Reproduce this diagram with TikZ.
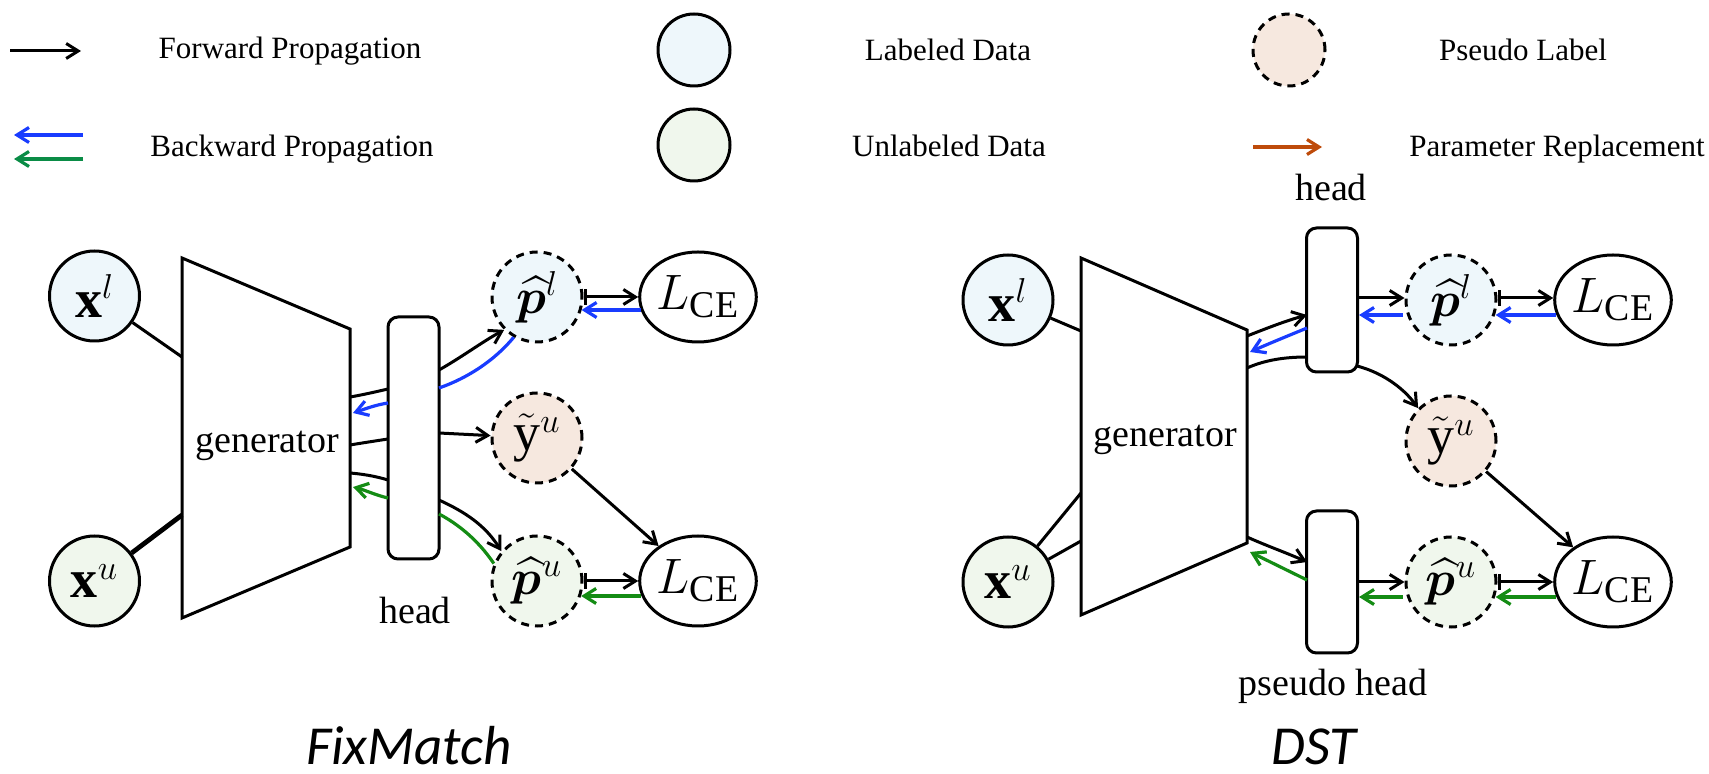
\documentclass[tikz,border=0pt]{standalone}
\usepackage{fontspec}
\setmainfont{Liberation Serif}
\newfontfamily\titlefont{Carlito}
\usepackage{amsmath}
\usepackage{bm}
\usetikzlibrary{arrows.meta,shapes.geometric,calc}
\definecolor{labfill}{RGB}{238,247,251}
\definecolor{unlabfill}{RGB}{240,247,237}
\definecolor{pseudofill}{RGB}{246,232,223}
\definecolor{bblue}{RGB}{25,60,255}
\definecolor{bgreen}{RGB}{20,140,20}
\definecolor{lgreen}{RGB}{10,140,70}
\definecolor{porange}{RGB}{190,75,10}
\tikzset{
  mathfont/.style={font=\fontsize{27}{31}\selectfont},
  datanode/.style={circle, draw, line width=1.5pt, minimum size=45pt, inner sep=0pt, mathfont},
  labnode/.style={datanode, fill=labfill},
  unlabnode/.style={datanode, fill=unlabfill},
  pseudonode/.style={datanode, fill=pseudofill, dashnode},
  dashnode/.style={dash pattern=on 4pt off 3pt},
  lossnode/.style={ellipse, draw, line width=1.5pt, minimum width=56pt, minimum height=45pt, inner sep=0pt, mathfont},
  legcircle/.style={circle, draw, line width=1.5pt, minimum size=36pt, inner sep=0pt},
  headbox/.style={draw, line width=1.5pt, rounded corners=5pt, minimum width=25.5pt, inner sep=0pt},
  arrowtip/.style={-{Straight Barb[length=6pt,width=7.5pt]}},
  fwd/.style={arrowtip, line width=1.5pt, black},
  bwdblue/.style={arrowtip, line width=1.6pt, bblue},
  bwdgreen/.style={arrowtip, line width=1.6pt, bgreen},
  barfwd/.style={{Bar[width=8pt]}-{Straight Barb[length=6pt,width=7.5pt]}, line width=1.5pt},
  plainline/.style={line width=1.5pt},
  legtext/.style={anchor=base, font=\fontsize{15.5}{18}\selectfont},
  diagtext/.style={anchor=base, font=\fontsize{19}{22}\selectfont},
  titletext/.style={anchor=base, inner sep=0pt, font=\titlefont\itshape\fontsize{27.5}{32}\selectfont},
}
\begin{document}
\begin{tikzpicture}[x=0.5pt,y=-0.5pt]
\useasboundingbox (0,0) rectangle (1709,774);

% ---------------- legend ----------------
\coordinate (lf1) at (10,51);  \coordinate (lf2) at (81,51);
\coordinate (lb1) at (83,135); \coordinate (lb2) at (14,135);
\coordinate (lg1) at (83,159); \coordinate (lg2) at (14,159);
\coordinate (lo1) at (1253,147); \coordinate (lo2) at (1322,147);
\draw[fwd] (lf1) -- (lf2);
\draw[bwdblue] (lb1) -- (lb2);
\draw[arrowtip, line width=1.6pt, lgreen] (lg1) -- (lg2);
\draw[arrowtip, line width=1.6pt, porange] (lo1) -- (lo2);
\node[legtext] (tfwd) at (290,59) {Forward Propagation};
\node[legtext] (tbwd) at (292,157) {Backward Propagation};
\node[legcircle, fill=labfill] (clab) at (694,50) {};
\node[legcircle, fill=unlabfill] (cunlab) at (694,145) {};
\node[legtext] (tlab) at (948,61) {Labeled Data};
\node[legtext] (tunlab) at (949,157) {Unlabeled Data};
\node[legcircle, fill=pseudofill, dashnode] (cpseudo) at (1289,50) {};
\node[legtext] (tpseudo) at (1523,61) {Pseudo Label};
\node[legtext] (tparam) at (1557,157) {Parameter Replacement};

% ---------------- FixMatch ----------------
\coordinate (fA) at (182,258); \coordinate (fB) at (350,329);
\coordinate (fC) at (350,547); \coordinate (fD) at (182,618);
\draw[plainline, line join=miter] (fA) -- (fB) -- (fC) -- (fD) -- cycle;
\node[diagtext] (fgen) at (267,453) {generator};

\node[labnode] (fxl) at (94.5,296) {$\mathbf{x}^{l}$};
\node[unlabnode] (fxu) at (94.5,581) {$\mathbf{x}^{u}$};
\coordinate (fgl) at (182,357);
\coordinate (fgu) at (182,515);
\draw[plainline] (fxl) -- (fgl);
\draw[line width=2.4pt] (fxu) -- (fgu);

\node[headbox, minimum height=121pt] (fhead) at (413.5,438) {};
\node[diagtext] (fheadt) at (415,624) {head};

\node[labnode, dashnode] (fpl) at (537,297) {$\widehat{\bm{p}}^{l}$};
\node[pseudonode] (fyu) at (537,438) {$\tilde{\mathrm{y}}^{u}$};
\node[unlabnode, dashnode] (fpu) at (537,581) {$\widehat{\bm{p}}^{u}$};
\node[lossnode] (flce1) at (698,297) {$L_{\mathrm{CE}}$};
\node[lossnode] (flce2) at (698,581) {$L_{\mathrm{CE}}$};

% generator <-> head
\coordinate (fg1) at (350,397); \coordinate (fh1) at (388,389);
\coordinate (fh2) at (388,403); \coordinate (fg2) at (353,413);
\coordinate (fg3) at (350,445); \coordinate (fh3) at (388,439);
\coordinate (fg4) at (350,473); \coordinate (fh4) at (388,480);
\coordinate (fh5) at (388,498); \coordinate (fg5) at (353,487);
\draw[plainline] (fg1) .. controls (362,395) and (375,392) .. (fh1);
\draw[bwdblue] (fh2) .. controls (375,405) and (365,409) .. (fg2);
\draw[plainline] (fg3) .. controls (362,443) and (375,441) .. (fh3);
\draw[plainline] (fg4) .. controls (362,474) and (375,476) .. (fh4);
\draw[bwdgreen] (fh5) .. controls (375,495) and (365,490) .. (fg5);

% head -> outputs
\coordinate (fr1) at (439,370);
\coordinate (fr2) at (439,388);
\coordinate (fr3) at (439,433);
\coordinate (fr4) at (439,500);
\coordinate (fr5) at (439,514);
\draw[fwd] (fr1) .. controls (462,357) and (482,342) .. (fpl.225);
\draw[line width=1.6pt, bblue] (fpl.240) .. controls (495,360) and (468,378) .. (fr2);
\draw[fwd] (fr3) -- (fyu);
\draw[fwd] (fr4) .. controls (465,512) and (485,525) .. (fpu.140);
\draw[line width=1.6pt, bgreen] (fpu.158) .. controls (478,540) and (458,524) .. (fr5);

% outputs -> losses
\draw[barfwd] (fpl.east) -- (flce1.west);
\draw[bwdblue] ([shift={(2.4,13)}]flce1.west) -- ([shift={(-1.9,13)}]fpl.east);
\draw[barfwd] (fpu.east) -- (flce2.west);
\draw[bwdgreen] ([shift={(2.4,15)}]flce2.west) -- ([shift={(-2.4,15)}]fpu.east);
\draw[fwd] (fyu) -- (flce2);

\node[titletext] (ftitle) at (409,764) {FixMatch};

% ---------------- DST ----------------
\coordinate (dA) at (1081,258); \coordinate (dB) at (1247,330);
\coordinate (dC) at (1247,543); \coordinate (dD) at (1081,615);
\draw[plainline, line join=miter] (dA) -- (dB) -- (dC) -- (dD) -- cycle;
\node[diagtext] (dgen) at (1165,447) {generator};

\node[labnode] (dxl) at (1008,300) {$\mathbf{x}^{l}$};
\node[unlabnode] (dxu) at (1008,582) {$\mathbf{x}^{u}$};
\coordinate (dgl) at (1081,331);
\coordinate (dgu1) at (1081,493);
\coordinate (dgu2) at (1081,541);
\draw[plainline] (dxl) -- (dgl);
\draw[plainline] (dxu) -- (dgu1);
\draw[plainline] (dxu) -- (dgu2);

\node[headbox, minimum height=72pt] (dhead) at (1332,300) {};
\node[diagtext] (dheadt) at (1331,201) {head};
\node[headbox, minimum height=71pt] (dphead) at (1332,582) {};
\node[diagtext] (dpheadt) at (1333,696) {pseudo head};

\node[labnode, dashnode] (dpl) at (1451,300) {$\widehat{\bm{p}}^{l}$};
\node[pseudonode] (dyu) at (1451,441) {$\tilde{\mathrm{y}}^{u}$};
\node[unlabnode, dashnode] (dpu) at (1451,582) {$\widehat{\bm{p}}^{u}$};
\node[lossnode] (dlce1) at (1613,300) {$L_{\mathrm{CE}}$};
\node[lossnode] (dlce2) at (1613,582) {$L_{\mathrm{CE}}$};

% generator <-> head
\coordinate (dg1) at (1247,336); \coordinate (dh1) at (1307,315);
\coordinate (dh2) at (1307,328); \coordinate (dg2) at (1250,352);
\coordinate (dg3) at (1247,368); \coordinate (dh3) at (1307,357);
\coordinate (dhc) at (1357,366);
\draw[fwd] (dg1) .. controls (1265,329) and (1285,321) .. (dh1);
\draw[bwdblue] (dh2) .. controls (1290,335) and (1268,344) .. (dg2);
\draw[plainline] (dg3) .. controls (1265,360) and (1285,357) .. (dh3);
\draw[fwd] (dhc) .. controls (1380,372) and (1402,386) .. (dyu.135);

% generator <-> pseudo head
\coordinate (dg4) at (1247,537); \coordinate (dh4) at (1307,562);
\coordinate (dh5) at (1307,580); \coordinate (dg5) at (1250,552);
\draw[fwd] (dg4) .. controls (1267,546) and (1287,553) .. (dh4);
\draw[bwdgreen] (dh5) -- (dg5);

% heads -> outputs
\draw[fwd] ([yshift=1pt]dhead.east) -- ([yshift=1pt]dpl.west);
\draw[bwdblue] ([shift={(-1.9,15)}]dpl.west) -- ([yshift=-7.5pt]dhead.east);
\draw[fwd] (dphead.east) -- (dpu.west);
\draw[bwdgreen] ([shift={(-1.9,15)}]dpu.west) -- ([yshift=-7.5pt]dphead.east);

% outputs -> losses
\draw[barfwd] ([yshift=1pt]dpl.east) -- ([yshift=1pt]dlce1.west);
\draw[bwdblue] ([shift={(2.4,15)}]dlce1.west) -- ([shift={(-1.9,15)}]dpl.east);
\draw[barfwd] (dpu.east) -- (dlce2.west);
\draw[bwdgreen] ([shift={(2.4,15)}]dlce2.west) -- ([shift={(-1.9,15)}]dpu.east);
\draw[fwd] (dyu) -- (dlce2);

\node[titletext] (dtitle) at (1314,764) {DST};
\end{tikzpicture}
\end{document}
